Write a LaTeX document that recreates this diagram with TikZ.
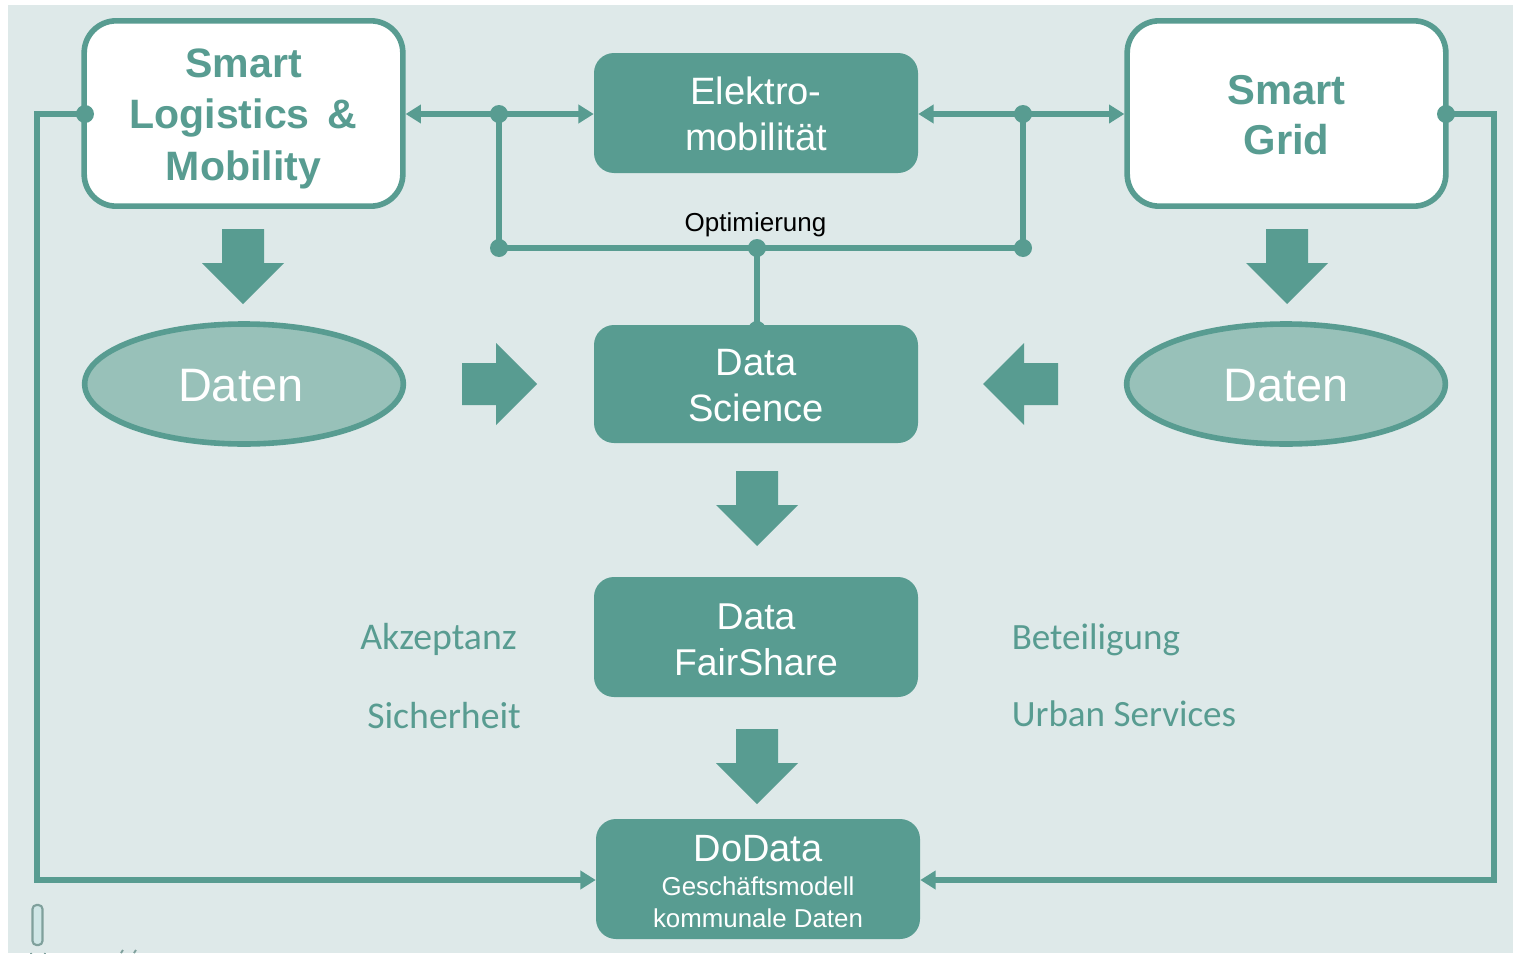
\documentclass[tikz,border=0pt]{standalone}
\usepackage{fontspec}
\setmainfont{Liberation Sans}
\newfontfamily\carl{Carlito}
\usetikzlibrary{shapes.geometric,arrows.meta}
\definecolor{teal}{HTML}{589C91}
\definecolor{bgc}{HTML}{DEE9E9}
\definecolor{lite}{HTML}{98C1B9}
\definecolor{markline}{HTML}{7FA09C}
\definecolor{markfill}{HTML}{CFE6E6}
\newcommand{\fs}[2]{\fontsize{#1}{#2}\selectfont}
\newcommand{\tstrut}[1]{\rule{0pt}{#1}}
\tikzset{
 x=0.75pt,y=-0.75pt,
 solidbox/.style={draw=none,fill=teal,rounded corners=15pt,text=white,align=center,minimum width=243pt,inner sep=0pt},
 whitebox/.style={draw=teal,line width=4.2pt,fill=white,rounded corners=24pt,text=teal,align=center,minimum width=239pt,minimum height=139pt,inner sep=0pt},
 oval/.style={ellipse,draw=teal,line width=4.2pt,fill=lite,text=white,align=center,minimum width=239pt,minimum height=90pt,inner sep=0pt},
 link/.style={draw=teal,line width=4pt},
 tip/.style={-{Triangle[length=11.5pt,width=13.5pt]}},
 dot/.style={circle,fill=teal,minimum size=13.5pt,inner sep=0pt},
 side/.style={text=teal,font=\carl\fs{28.3}{32},anchor=base west,inner sep=0pt},
 sider/.style={side,font=\carl\fs{27.8}{32}},
}
\newcommand{\downarrowat}[2]{\fill[teal] (#1-21,#2) -- (#1+21,#2) -- (#1+21,#2+34) -- (#1+41,#2+34) -- (#1,#2+75) -- (#1-41,#2+34) -- (#1-21,#2+34) -- cycle;}
\begin{document}
\begin{tikzpicture}
\useasboundingbox (0,0) rectangle (1513,953);
\fill[white] (0,0) rectangle (1513,953);
\fill[bgc] (8,5) rectangle (1513,953);
% junctions
\node[dot] (ds) at (757,330) {};
\node[dot] (om) at (757,248) {};
\draw[link] (om.center) -- (ds.center);
% main nodes
\node[whitebox,font=\bfseries\fs{30.8}{38.5}] (logistics) at (243.5,113.5) {\tstrut{29.2pt}Smart\\Logistics \,\&\\Mobility};
\node[whitebox,font=\bfseries\fs{31.3}{37.5}] (grid) at (1286.5,113.5) {\tstrut{23.6pt}Smart\\Grid};
\node[solidbox,minimum height=90pt,font=\fs{28.6}{34.5}] (elektro) at (756,113) {\tstrut{22.4pt}Elektro-\\mobilität};
\node[solidbox,minimum height=88.5pt,font=\fs{28.6}{34.5}] (science) at (756,384) {\tstrut{22.4pt}Data\\Science};
\node[solidbox,minimum height=90pt,font=\fs{28}{34.5}] (fair) at (756,637) {\tstrut{23.4pt}Data\\FairShare};
\node[solidbox,minimum height=90pt,font=\fs{19.4}{24}] (dodata) at (758,879) {{\fs{28.5}{30}\tstrut{24pt}DoData}\\[1.5pt]Geschäftsmodell\\kommunale Daten};
\node[oval,font=\fs{35.2}{40}] (datenl) at (244,384) {\tstrut{26.4pt}\hspace*{-5pt}Daten};
\node[oval,font=\fs{35.2}{40}] (datenr) at (1286,384) {\tstrut{26.4pt}Daten};
\node[dot] (jl) at (499,114) {};
\node[dot] (jr) at (1023,114) {};
\node[dot] (ol) at (499,248) {};
\node[dot] (or) at (1023,248) {};
\node[dot] (pl) at (85,114) {};
\node[dot] (pr) at (1446,114) {};
\coordinate (cl1) at (37,114);
\coordinate (cl2) at (37,880);
\coordinate (cr1) at (1494,114);
\coordinate (cr2) at (1494,880);
% connectors
\draw[link,tip] (jl.center) -- (logistics.east|-jl);
\draw[link,tip] (jl.center) -- (elektro.west|-jl);
\draw[link,tip] (jr.center) -- (elektro.east|-jr);
\draw[link,tip] (jr.center) -- (grid.west|-jr);
\draw[link] (jl.center) -- (ol.center) -- (or.center) -- (jr.center);
\draw[link,tip] (pl.center) -- (cl1) -- (cl2) -- (dodata.west|-cl2);
\draw[link,tip] (pr.center) -- (cr1) -- (cr2) -- (dodata.east|-cr2);
% block arrows
\downarrowat{243}{229}
\downarrowat{1287}{229}
\downarrowat{757}{471}
\downarrowat{757}{729}
\fill[teal] (462,363) -- (496,363) -- (496,343) -- (537,384) -- (496,425) -- (496,405) -- (462,405) -- cycle;
\fill[teal] (1058,363) -- (1024,363) -- (1024,343) -- (983,384) -- (1024,425) -- (1024,405) -- (1058,405) -- cycle;
% labels
\node[font=\fs{19.5}{23},text=black,inner sep=0pt] (opt) at (755.5,225) {Optimierung};
\node[side] (akz) at (360,649) {Akzeptanz};
\node[side] (sic) at (367,728) {Sicherheit};
\node[sider] (bet) at (1011.5,649) {Beteiligung};
\node[sider] (urb) at (1011.5,726) {Urban Services};
% small marks bottom left
\draw[draw=markline,line width=1.6pt,fill=markfill,rounded corners=3pt] (32.5,905) rectangle (42.5,945);
\draw[draw=markline,line width=1.4pt] (31,953) arc[start angle=180,end angle=0,radius=7];
\draw[draw=markline,line width=1.4pt] (121,953) -- (123,950) (134,953) -- (136,950);
\end{tikzpicture}
\end{document}
